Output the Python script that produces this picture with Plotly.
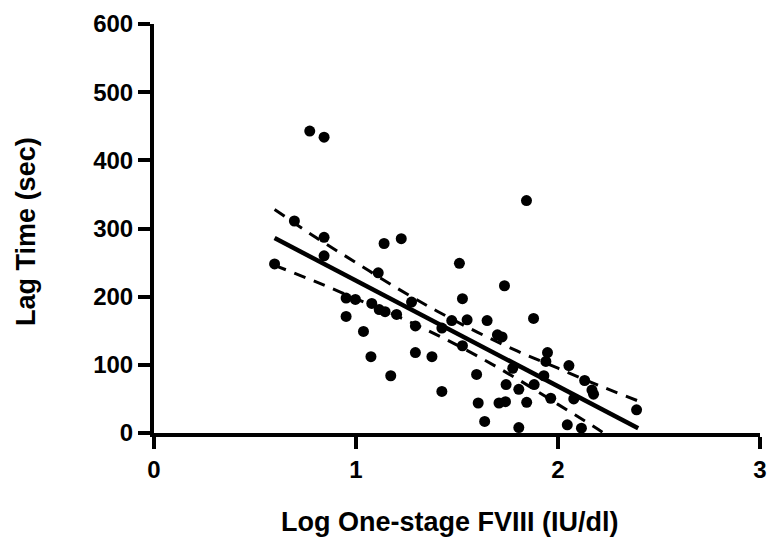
import plotly.graph_objects as go

# Scatter data: Log one-stage FVIII (IU/dl) vs Lag time (sec)
log_fviii = [0.597, 0.695, 0.771, 0.842, 0.842, 0.842, 0.951, 0.997, 0.951, 1.037,
             1.074, 1.078, 1.115, 1.144, 1.110, 1.139, 1.172, 1.201, 1.224, 1.275,
             1.294, 1.294, 1.376, 1.425, 1.425, 1.474, 1.512, 1.527, 1.527, 1.550,
             1.597, 1.605, 1.637, 1.649, 1.700, 1.723, 1.708, 1.740, 1.743, 1.735,
             1.776, 1.806, 1.806, 1.844, 1.845, 1.879, 1.882, 1.930, 1.940, 1.948,
             1.964, 2.046, 2.054, 2.078, 2.116, 2.132, 2.168, 2.176, 2.389]
lag_time = [248, 311, 443, 434, 287, 260, 198, 196, 171, 149,
            112, 190, 181, 178, 235, 278, 84, 174, 285, 192,
            157, 118, 112, 154, 61, 165, 249, 197, 128, 166,
            86, 44, 17, 165, 144, 141, 44, 46, 71, 216,
            95, 64, 8, 341, 45, 168, 71, 84, 105, 118,
            51, 12, 99, 50, 7, 77, 63, 57, 34]

# Regression line
fit_x = [0.597, 2.397]
fit_y = [286, 7]

# 95% confidence band
band_x = [0.597, 0.8, 1.0, 1.2, 1.4, 1.6, 1.8, 2.0, 2.2, 2.397]
band_upper = [328, 287, 250, 213, 179, 148, 120, 95, 70, 47]
band_lower = [246, 222, 197, 172, 144, 113, 79, 42, 5, -34]

x_ticks = [0, 1, 2, 3]
y_ticks = [0, 100, 200, 300, 400, 500, 600]

FONT = "Liberation Sans, Arial, sans-serif"

fig = go.Figure()
fig.add_trace(go.Scatter(x=band_x, y=band_upper, mode="lines", line_shape="spline",
                         line=dict(color="black", width=3, dash="12px,9px"),
                         hoverinfo="skip", showlegend=False))
fig.add_trace(go.Scatter(x=band_x, y=band_lower, mode="lines", line_shape="spline",
                         line=dict(color="black", width=3, dash="12px,9px"),
                         hoverinfo="skip", showlegend=False))
fig.add_trace(go.Scatter(x=fit_x, y=fit_y, mode="lines",
                         line=dict(color="black", width=4.5),
                         showlegend=False))
fig.add_trace(go.Scatter(x=log_fviii, y=lag_time, mode="markers",
                         marker=dict(color="black", size=11, line=dict(width=0)),
                         cliponaxis=False, showlegend=False))

axis_common = dict(showline=True, linecolor="black", linewidth=4,
                   ticks="outside", ticklen=12, tickwidth=4, tickcolor="black",
                   showgrid=False, zeroline=False,
                   tickfont=dict(family=FONT, size=24, color="black", weight="bold"))

fig.update_xaxes(range=[0, 3], tickvals=x_ticks, ticktext=[str(v) for v in x_ticks],
                 **axis_common)
fig.update_yaxes(range=[0, 600], tickvals=y_ticks, ticktext=[str(v) for v in y_ticks],
                 **axis_common)

fig.update_layout(
    width=774, height=543,
    margin=dict(l=154, r=7, t=24, b=110),
    plot_bgcolor="white", paper_bgcolor="white",
    annotations=[
        dict(text="Log One-stage FVIII (IU/dl)", xref="paper", yref="paper",
             x=0.489, y=-0.218, xanchor="center", yanchor="middle", showarrow=False,
             font=dict(family=FONT, size=27, color="black", weight="bold")),
        dict(text="Lag Time (sec)", xref="paper", yref="paper",
             x=-0.211, y=0.492, xanchor="center", yanchor="middle", showarrow=False,
             textangle=-90,
             font=dict(family=FONT, size=27, color="black", weight="bold")),
    ],
)

fig.write_html("out.html")
